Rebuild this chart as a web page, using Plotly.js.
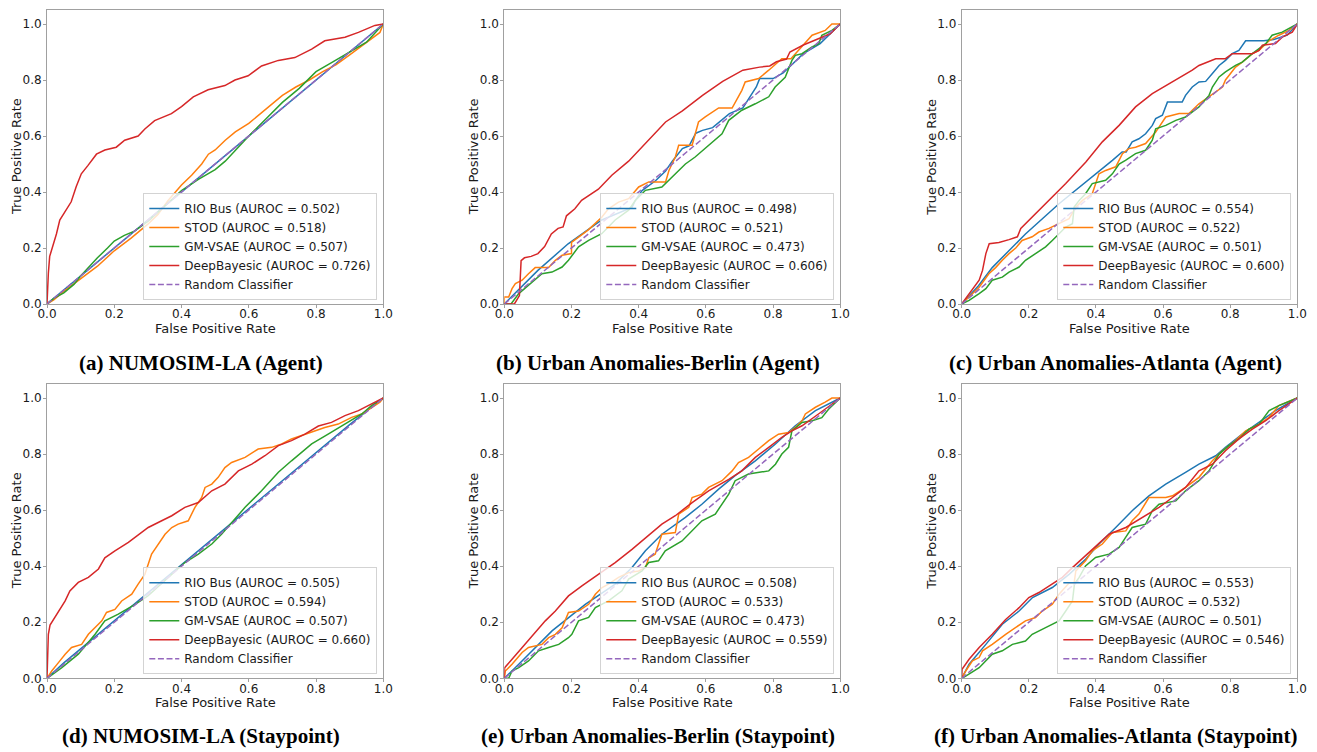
<!DOCTYPE html>
<html>
<head>
<meta charset="utf-8">
<script src="https://cdn.plot.ly/plotly-3.0.1.min.js"></script>
<style>html,body{margin:0;padding:0;background:#fff;}#chart{width:1317px;height:752px;}</style>
</head>
<body>
<div id="chart"></div>
<script>
// ---------- DATA ----------
const modelNames = ["RIO Bus", "STOD", "GM-VSAE", "DeepBayesic"];
const randomName = "Random Classifier";
const captions = [
  "(a) NUMOSIM-LA (Agent)",
  "(b) Urban Anomalies-Berlin (Agent)",
  "(c) Urban Anomalies-Atlanta (Agent)",
  "(d) NUMOSIM-LA (Staypoint)",
  "(e) Urban Anomalies-Berlin (Staypoint)",
  "(f) Urban Anomalies-Atlanta (Staypoint)"
];
const xTitle = "False Positive Rate";
const yTitle = "True Positive Rate";
const tickValues = [0, 0.2, 0.4, 0.6, 0.8, 1.0];

const aurocA = [0.502, 0.518, 0.507, 0.726];
const aurocB = [0.498, 0.521, 0.473, 0.606];
const aurocC = [0.554, 0.522, 0.501, 0.600];
const aurocD = [0.505, 0.594, 0.507, 0.660];
const aurocE = [0.508, 0.533, 0.473, 0.559];
const aurocF = [0.553, 0.532, 0.501, 0.546];

const randomX = [0, 1];
const randomY = [0, 1];

// (a) NUMOSIM-LA (Agent)
const aRioX = [0, 0.05, 0.1, 0.15, 0.2, 0.25, 0.3, 0.35, 0.4, 0.45, 0.5, 0.6, 0.7, 0.8, 0.9, 1];
const aRioY = [0, 0.05, 0.1, 0.152, 0.2, 0.25, 0.3, 0.352, 0.402, 0.452, 0.502, 0.602, 0.702, 0.802, 0.902, 1];
const aStodX = [0, 0.02, 0.05, 0.1, 0.15, 0.2, 0.25, 0.3, 0.33, 0.36, 0.4, 0.43, 0.46, 0.48, 0.5, 0.53, 0.56, 0.6, 0.63, 0.66, 0.7, 0.74, 0.78, 0.82, 0.86, 0.9, 0.94, 0.97, 0.99, 1];
const aStodY = [0, 0.015, 0.045, 0.09, 0.135, 0.19, 0.235, 0.285, 0.32, 0.37, 0.425, 0.46, 0.5, 0.535, 0.55, 0.585, 0.615, 0.645, 0.675, 0.705, 0.745, 0.775, 0.8, 0.83, 0.855, 0.89, 0.925, 0.95, 0.97, 1];
const aGmX = [0, 0.02, 0.05, 0.08, 0.1, 0.13, 0.15, 0.18, 0.2, 0.23, 0.26, 0.3, 0.35, 0.4, 0.45, 0.5, 0.53, 0.56, 0.6, 0.65, 0.7, 0.75, 0.8, 0.85, 0.9, 0.95, 1];
const aGmY = [0, 0.02, 0.04, 0.07, 0.1, 0.14, 0.165, 0.2, 0.225, 0.245, 0.26, 0.295, 0.35, 0.405, 0.445, 0.48, 0.51, 0.55, 0.6, 0.66, 0.72, 0.77, 0.83, 0.865, 0.9, 0.935, 1];
const aDbX = [0, 0.002, 0.004, 0.008, 0.018, 0.028, 0.038, 0.053, 0.072, 0.087, 0.102, 0.122, 0.147, 0.172, 0.206, 0.231, 0.271, 0.291, 0.32, 0.37, 0.4, 0.435, 0.479, 0.529, 0.559, 0.598, 0.638, 0.688, 0.737, 0.787, 0.826, 0.886, 0.926, 0.975, 1];
const aDbY = [0, 0.06, 0.11, 0.17, 0.21, 0.25, 0.3, 0.33, 0.365, 0.42, 0.465, 0.495, 0.535, 0.55, 0.56, 0.585, 0.6, 0.625, 0.655, 0.68, 0.705, 0.74, 0.765, 0.78, 0.8, 0.815, 0.85, 0.87, 0.88, 0.91, 0.94, 0.953, 0.97, 0.995, 1];

// (b) Urban Anomalies-Berlin (Agent)
const bRioX = [0, 0.03, 0.1, 0.19, 0.29, 0.38, 0.39, 0.41, 0.45, 0.48, 0.5, 0.53, 0.55, 0.57, 0.59, 0.62, 0.67, 0.71, 0.75, 0.76, 0.8, 0.83, 0.86, 0.89, 0.94, 0.97, 1];
const bRioY = [0, 0.035, 0.12, 0.215, 0.3, 0.345, 0.37, 0.405, 0.44, 0.475, 0.51, 0.555, 0.565, 0.61, 0.62, 0.63, 0.68, 0.7, 0.775, 0.805, 0.805, 0.825, 0.858, 0.894, 0.93, 0.965, 1];
const bStodX = [0, 0, 0.013, 0.023, 0.033, 0.053, 0.072, 0.092, 0.132, 0.152, 0.172, 0.2, 0.2, 0.25, 0.29, 0.31, 0.34, 0.37, 0.4, 0.43, 0.48, 0.49, 0.509, 0.519, 0.559, 0.578, 0.598, 0.638, 0.678, 0.707, 0.717, 0.757, 0.787, 0.826, 0.853, 0.886, 0.916, 0.955, 0.975, 1];
const bStodY = [0, 0.025, 0.025, 0.055, 0.073, 0.085, 0.108, 0.13, 0.13, 0.156, 0.174, 0.18, 0.22, 0.265, 0.31, 0.34, 0.364, 0.376, 0.418, 0.436, 0.436, 0.477, 0.525, 0.567, 0.567, 0.65, 0.668, 0.7, 0.7, 0.763, 0.793, 0.805, 0.835, 0.876, 0.876, 0.918, 0.96, 0.977, 1, 1];
const bGmX = [0, 0.02, 0.043, 0.072, 0.112, 0.142, 0.172, 0.191, 0.221, 0.251, 0.29, 0.33, 0.37, 0.39, 0.42, 0.469, 0.489, 0.519, 0.539, 0.568, 0.608, 0.648, 0.668, 0.707, 0.747, 0.787, 0.806, 0.836, 0.856, 0.866, 0.886, 0.916, 0.936, 0.945, 0.975, 1];
const bGmY = [0, 0, 0.037, 0.067, 0.108, 0.114, 0.132, 0.156, 0.204, 0.227, 0.251, 0.3, 0.335, 0.37, 0.406, 0.418, 0.442, 0.477, 0.5, 0.525, 0.567, 0.608, 0.656, 0.692, 0.715, 0.74, 0.775, 0.81, 0.87, 0.888, 0.894, 0.918, 0.93, 0.96, 0.977, 1];
const bDbX = [0, 0.03, 0.045, 0.05, 0.06, 0.08, 0.1, 0.12, 0.14, 0.16, 0.175, 0.185, 0.21, 0.23, 0.28, 0.32, 0.37, 0.41, 0.48, 0.53, 0.59, 0.65, 0.71, 0.76, 0.79, 0.81, 0.84, 0.85, 0.89, 0.94, 0.97, 1];
const bDbY = [0, 0, 0.03, 0.155, 0.165, 0.17, 0.18, 0.205, 0.25, 0.27, 0.275, 0.315, 0.34, 0.37, 0.41, 0.46, 0.51, 0.56, 0.65, 0.69, 0.745, 0.795, 0.835, 0.846, 0.85, 0.865, 0.875, 0.9, 0.925, 0.95, 0.965, 1];

// (c) Urban Anomalies-Atlanta (Agent)
const cRioX = [0, 0.05, 0.091, 0.19, 0.29, 0.389, 0.449, 0.478, 0.49, 0.508, 0.528, 0.548, 0.568, 0.578, 0.598, 0.613, 0.657, 0.667, 0.687, 0.707, 0.727, 0.747, 0.767, 0.786, 0.806, 0.826, 0.846, 0.9, 0.93, 0.97, 1];
const cRioY = [0, 0.065, 0.13, 0.25, 0.358, 0.453, 0.513, 0.543, 0.543, 0.579, 0.59, 0.608, 0.638, 0.662, 0.674, 0.721, 0.721, 0.745, 0.775, 0.793, 0.795, 0.823, 0.852, 0.87, 0.894, 0.906, 0.94, 0.94, 0.945, 0.96, 1];
const cStodX = [0, 0.022, 0.052, 0.081, 0.101, 0.121, 0.141, 0.161, 0.18, 0.21, 0.23, 0.26, 0.29, 0.32, 0.34, 0.36, 0.389, 0.409, 0.429, 0.459, 0.479, 0.498, 0.518, 0.548, 0.578, 0.608, 0.648, 0.677, 0.707, 0.747, 0.777, 0.786, 0.816, 0.836, 0.866, 0.886, 0.916, 0.945, 0.975, 1];
const cStodY = [0, 0.025, 0.06, 0.108, 0.13, 0.156, 0.18, 0.2, 0.227, 0.24, 0.257, 0.27, 0.287, 0.305, 0.346, 0.37, 0.394, 0.465, 0.477, 0.49, 0.537, 0.555, 0.56, 0.573, 0.614, 0.668, 0.68, 0.68, 0.715, 0.751, 0.775, 0.8, 0.846, 0.864, 0.894, 0.906, 0.94, 0.96, 0.977, 1];
const cGmX = [0, 0.022, 0.052, 0.072, 0.091, 0.121, 0.141, 0.171, 0.19, 0.22, 0.25, 0.27, 0.29, 0.31, 0.33, 0.335, 0.35, 0.369, 0.389, 0.429, 0.449, 0.469, 0.488, 0.518, 0.548, 0.568, 0.578, 0.608, 0.638, 0.667, 0.707, 0.737, 0.747, 0.767, 0.786, 0.816, 0.836, 0.866, 0.906, 0.925, 0.955, 0.985, 1];
const cGmY = [0, 0.013, 0.037, 0.055, 0.085, 0.096, 0.114, 0.132, 0.156, 0.18, 0.204, 0.227, 0.251, 0.275, 0.287, 0.346, 0.37, 0.394, 0.43, 0.442, 0.465, 0.5, 0.513, 0.537, 0.549, 0.585, 0.626, 0.638, 0.656, 0.668, 0.704, 0.745, 0.775, 0.811, 0.829, 0.852, 0.864, 0.894, 0.93, 0.96, 0.971, 0.989, 1];
const cDbX = [0, 0.032, 0.052, 0.062, 0.072, 0.082, 0.111, 0.141, 0.166, 0.176, 0.19, 0.25, 0.31, 0.37, 0.419, 0.469, 0.518, 0.568, 0.628, 0.687, 0.707, 0.757, 0.786, 0.806, 0.866, 0.886, 0.896, 0.935, 0.955, 0.985, 1];
const cDbY = [0, 0.05, 0.085, 0.12, 0.18, 0.215, 0.22, 0.23, 0.24, 0.27, 0.287, 0.358, 0.43, 0.507, 0.579, 0.638, 0.704, 0.751, 0.793, 0.835, 0.852, 0.876, 0.876, 0.894, 0.894, 0.906, 0.924, 0.93, 0.953, 0.971, 1];

// (d) NUMOSIM-LA (Staypoint)
const dRioX = [0, 0.05, 0.1, 0.2, 0.3, 0.4, 0.5, 0.6, 0.7, 0.8, 0.9, 1];
const dRioY = [0, 0.055, 0.105, 0.205, 0.305, 0.405, 0.505, 0.605, 0.705, 0.805, 0.905, 1];
const dStodX = [0, 0.014, 0.034, 0.054, 0.073, 0.103, 0.123, 0.143, 0.163, 0.177, 0.202, 0.222, 0.252, 0.271, 0.291, 0.311, 0.331, 0.351, 0.371, 0.39, 0.42, 0.44, 0.46, 0.47, 0.49, 0.509, 0.529, 0.549, 0.589, 0.628, 0.668, 0.698, 0.727, 0.767, 0.797, 0.826, 0.866, 0.906, 0.936, 0.965, 0.99, 1];
const dStodY = [0, 0.026, 0.056, 0.086, 0.11, 0.121, 0.157, 0.18, 0.205, 0.235, 0.246, 0.276, 0.3, 0.336, 0.371, 0.443, 0.479, 0.514, 0.538, 0.55, 0.562, 0.61, 0.645, 0.681, 0.693, 0.717, 0.752, 0.77, 0.788, 0.818, 0.824, 0.836, 0.854, 0.871, 0.883, 0.895, 0.907, 0.931, 0.943, 0.967, 0.985, 1];
const dGmX = [0, 0.044, 0.093, 0.143, 0.172, 0.212, 0.262, 0.3, 0.35, 0.41, 0.45, 0.49, 0.519, 0.55, 0.589, 0.638, 0.688, 0.727, 0.787, 0.836, 0.886, 0.936, 0.965, 1];
const dGmY = [0, 0.038, 0.086, 0.157, 0.205, 0.229, 0.264, 0.294, 0.348, 0.413, 0.443, 0.479, 0.514, 0.555, 0.61, 0.669, 0.735, 0.776, 0.836, 0.871, 0.907, 0.943, 0.973, 1];
const dDbX = [0, 0.001, 0.004, 0.009, 0.019, 0.034, 0.054, 0.068, 0.093, 0.123, 0.153, 0.172, 0.202, 0.242, 0.281, 0.301, 0.341, 0.371, 0.41, 0.45, 0.49, 0.529, 0.569, 0.609, 0.648, 0.688, 0.727, 0.767, 0.807, 0.846, 0.886, 0.926, 0.955, 0.985, 1];
const dDbY = [0, 0.08, 0.157, 0.19, 0.21, 0.24, 0.276, 0.312, 0.342, 0.36, 0.39, 0.43, 0.455, 0.485, 0.52, 0.538, 0.562, 0.58, 0.61, 0.627, 0.669, 0.693, 0.74, 0.764, 0.794, 0.83, 0.848, 0.871, 0.9, 0.913, 0.937, 0.955, 0.973, 0.99, 1];

// (e) Urban Anomalies-Berlin (Staypoint)
const eRioX = [0, 0.043, 0.142, 0.241, 0.33, 0.38, 0.42, 0.469, 0.539, 0.588, 0.638, 0.687, 0.747, 0.807, 0.866, 0.926, 1];
const eRioY = [0, 0.05, 0.169, 0.264, 0.336, 0.395, 0.455, 0.514, 0.574, 0.621, 0.675, 0.723, 0.776, 0.836, 0.901, 0.955, 1];
const eStodX = [0, 0.003, 0.023, 0.053, 0.072, 0.112, 0.132, 0.152, 0.172, 0.191, 0.221, 0.251, 0.271, 0.291, 0.31, 0.34, 0.37, 0.4, 0.42, 0.43, 0.449, 0.469, 0.509, 0.519, 0.549, 0.559, 0.588, 0.608, 0.648, 0.678, 0.697, 0.727, 0.757, 0.787, 0.816, 0.846, 0.866, 0.886, 0.896, 0.926, 0.955, 0.975, 1];
const eStodY = [0, 0.026, 0.05, 0.092, 0.11, 0.121, 0.145, 0.157, 0.18, 0.235, 0.24, 0.264, 0.3, 0.324, 0.336, 0.36, 0.377, 0.383, 0.395, 0.43, 0.443, 0.514, 0.52, 0.586, 0.61, 0.645, 0.657, 0.681, 0.705, 0.74, 0.77, 0.788, 0.818, 0.848, 0.871, 0.877, 0.895, 0.919, 0.943, 0.967, 0.985, 1, 1];
const eGmX = [0, 0.013, 0.023, 0.043, 0.072, 0.102, 0.132, 0.162, 0.191, 0.201, 0.221, 0.251, 0.271, 0.31, 0.35, 0.37, 0.41, 0.43, 0.459, 0.479, 0.529, 0.559, 0.588, 0.628, 0.648, 0.668, 0.687, 0.727, 0.787, 0.807, 0.826, 0.846, 0.856, 0.886, 0.916, 0.945, 0.965, 1];
const eGmY = [0, 0, 0.026, 0.038, 0.062, 0.098, 0.11, 0.121, 0.145, 0.157, 0.205, 0.217, 0.252, 0.276, 0.312, 0.354, 0.383, 0.413, 0.419, 0.455, 0.49, 0.526, 0.562, 0.586, 0.621, 0.657, 0.705, 0.729, 0.74, 0.764, 0.8, 0.824, 0.883, 0.913, 0.919, 0.93, 0.96, 1];
const eDbX = [0, 0.001, 0.023, 0.053, 0.092, 0.122, 0.152, 0.191, 0.231, 0.281, 0.33, 0.38, 0.42, 0.469, 0.509, 0.559, 0.608, 0.668, 0.707, 0.747, 0.787, 0.826, 0.856, 0.886, 0.935, 1];
const eDbY = [0, 0.038, 0.068, 0.11, 0.163, 0.205, 0.24, 0.294, 0.33, 0.371, 0.413, 0.46, 0.502, 0.55, 0.58, 0.627, 0.669, 0.71, 0.74, 0.788, 0.824, 0.86, 0.883, 0.901, 0.943, 1];

// (f) Urban Anomalies-Atlanta (Staypoint)
const fRioX = [0, 0.022, 0.072, 0.121, 0.171, 0.211, 0.27, 0.32, 0.369, 0.409, 0.459, 0.508, 0.558, 0.608, 0.667, 0.707, 0.757, 0.786, 0.836, 0.886, 0.935, 1];
const fRioY = [0, 0.05, 0.121, 0.193, 0.24, 0.288, 0.324, 0.371, 0.425, 0.479, 0.538, 0.598, 0.651, 0.693, 0.735, 0.764, 0.794, 0.824, 0.871, 0.913, 0.955, 1];
const fStodX = [0, 0.012, 0.032, 0.052, 0.062, 0.091, 0.131, 0.161, 0.19, 0.22, 0.24, 0.27, 0.29, 0.32, 0.335, 0.34, 0.369, 0.389, 0.419, 0.449, 0.489, 0.508, 0.528, 0.558, 0.608, 0.628, 0.667, 0.707, 0.727, 0.747, 0.777, 0.816, 0.846, 0.886, 0.916, 0.945, 1];
const fStodY = [0, 0.026, 0.062, 0.074, 0.098, 0.121, 0.157, 0.181, 0.205, 0.217, 0.24, 0.264, 0.3, 0.34, 0.34, 0.383, 0.419, 0.455, 0.479, 0.52, 0.526, 0.562, 0.586, 0.645, 0.645, 0.651, 0.681, 0.717, 0.746, 0.776, 0.812, 0.848, 0.883, 0.907, 0.931, 0.973, 1];
const fGmX = [0, 0.012, 0.052, 0.091, 0.121, 0.151, 0.19, 0.21, 0.25, 0.29, 0.31, 0.33, 0.336, 0.35, 0.369, 0.399, 0.439, 0.469, 0.488, 0.508, 0.548, 0.568, 0.588, 0.638, 0.667, 0.707, 0.737, 0.767, 0.796, 0.826, 0.856, 0.886, 0.916, 0.945, 1];
const fGmY = [0, 0.008, 0.038, 0.086, 0.098, 0.121, 0.133, 0.157, 0.181, 0.205, 0.24, 0.276, 0.336, 0.36, 0.401, 0.431, 0.443, 0.467, 0.502, 0.538, 0.55, 0.598, 0.621, 0.633, 0.669, 0.705, 0.74, 0.8, 0.83, 0.854, 0.889, 0.907, 0.955, 0.973, 1];
const fDbX = [0, 0.001, 0.022, 0.052, 0.091, 0.131, 0.171, 0.2, 0.23, 0.27, 0.3, 0.33, 0.369, 0.409, 0.439, 0.489, 0.538, 0.588, 0.628, 0.667, 0.707, 0.747, 0.786, 0.826, 0.866, 0.906, 0.945, 1];
const fDbY = [0, 0.032, 0.068, 0.11, 0.157, 0.21, 0.252, 0.288, 0.306, 0.336, 0.36, 0.395, 0.437, 0.479, 0.514, 0.538, 0.574, 0.61, 0.645, 0.681, 0.74, 0.764, 0.812, 0.854, 0.889, 0.919, 0.955, 1];

// ---------- BUILD ----------
const panels = [
  {auroc: aurocA, xs: [aRioX, aStodX, aGmX, aDbX], ys: [aRioY, aStodY, aGmY, aDbY]},
  {auroc: aurocB, xs: [bRioX, bStodX, bGmX, bDbX], ys: [bRioY, bStodY, bGmY, bDbY]},
  {auroc: aurocC, xs: [cRioX, cStodX, cGmX, cDbX], ys: [cRioY, cStodY, cGmY, cDbY]},
  {auroc: aurocD, xs: [dRioX, dStodX, dGmX, dDbX], ys: [dRioY, dStodY, dGmY, dDbY]},
  {auroc: aurocE, xs: [eRioX, eStodX, eGmX, eDbX], ys: [eRioY, eStodY, eGmY, eDbY]},
  {auroc: aurocF, xs: [fRioX, fStodX, fGmX, fDbX], ys: [fRioY, fStodY, fGmY, fDbY]}
];

const W = 1317, H = 752;
const colors = ["#1f77b4", "#ff7f0e", "#2ca02c", "#d62728"];
const randColor = "#9467bd";
const colPx = [[47, 383.3], [504.3, 840.3], [961.7, 1297.3]];
const rowPx = [[10, 304], [384, 678.3]];
const capYPx = [363, 736];
const frameColor = "#a0a0a0";
const textColor = "#1a1a1a";
const sansFont = "DejaVu Sans, sans-serif";

const traces = [];
const layout = {
  width: W, height: H,
  margin: {l: 0, r: 0, t: 0, b: 0},
  paper_bgcolor: "#ffffff",
  plot_bgcolor: "#ffffff",
  font: {family: sansFont, size: 12, color: textColor},
  showlegend: true,
  annotations: []
};

panels.forEach((p, i) => {
  const col = i % 3, row = Math.floor(i / 3);
  const sfx = i === 0 ? "" : String(i + 1);
  const xa = "x" + sfx, ya = "y" + sfx;
  const legKey = "legend" + sfx;
  for (let k = 0; k < 4; k++) {
    traces.push({
      type: "scatter", mode: "lines",
      x: p.xs[k], y: p.ys[k],
      xaxis: xa, yaxis: ya,
      name: modelNames[k] + " (AUROC = " + p.auroc[k].toFixed(3) + ")",
      line: {color: colors[k], width: 1.5},
      legend: legKey,
      hoverinfo: "skip"
    });
  }
  traces.push({
    type: "scatter", mode: "lines",
    x: randomX, y: randomY,
    xaxis: xa, yaxis: ya,
    name: randomName,
    line: {color: randColor, width: 1.5, dash: "6px,2.6px"},
    legend: legKey,
    hoverinfo: "skip"
  });

  const common = {
    showgrid: false, zeroline: false,
    showline: true, mirror: true, linecolor: frameColor, linewidth: 1,
    ticks: "outside", ticklen: 3, tickwidth: 1, tickcolor: frameColor,
    tickvals: tickValues, tickformat: ".1f",
    tickfont: {family: sansFont, size: 12, color: textColor},
    fixedrange: true, automargin: false
  };
  layout["xaxis" + sfx] = Object.assign({}, common, {
    domain: [colPx[col][0] / W, colPx[col][1] / W],
    range: [0, 1], anchor: ya, ticklabelstandoff: -4
  });
  layout["yaxis" + sfx] = Object.assign({}, common, {
    domain: [1 - rowPx[row][1] / H, 1 - rowPx[row][0] / H],
    range: [0, 1.05], anchor: xa, ticklabelstandoff: -1
  });
  layout[legKey] = {
    x: (colPx[col][1] - 6) / W, y: 1 - (rowPx[row][1] - 4) / H,
    xanchor: "right", yanchor: "bottom",
    bgcolor: "rgba(255,255,255,0.8)",
    bordercolor: "#d3d3d3", borderwidth: 1,
    font: {family: sansFont, size: 12, color: textColor},
    traceorder: "normal"
  };
  // axis titles
  layout.annotations.push({
    xref: "paper", yref: "paper",
    x: (colPx[col][0] + colPx[col][1]) / 2 / W, y: 1 - (rowPx[row][1] + 24) / H,
    xanchor: "center", yanchor: "middle", showarrow: false,
    text: xTitle, font: {family: sansFont, size: 13, color: textColor}
  });
  layout.annotations.push({
    xref: "paper", yref: "paper",
    x: (colPx[col][0] - 31) / W, y: 1 - (rowPx[row][0] + rowPx[row][1]) / 2 / H,
    xanchor: "center", yanchor: "middle", showarrow: false, textangle: -90,
    text: yTitle, font: {family: sansFont, size: 13, color: textColor}
  });
  // caption
  const capX = ((colPx[col][0] + colPx[col][1]) / 2 - 14) / W;
  layout.annotations.push({
    xref: "paper", yref: "paper",
    x: capX, y: 1 - capYPx[row] / H,
    xanchor: "center", yanchor: "middle",
    showarrow: false,
    text: "<b>" + captions[i] + "</b>",
    font: {family: "Liberation Serif, Times New Roman, serif", size: 21, color: "#000000"}
  });
});

Plotly.newPlot("chart", traces, layout, {displayModeBar: false, staticPlot: true});
</script>
</body>
</html>
